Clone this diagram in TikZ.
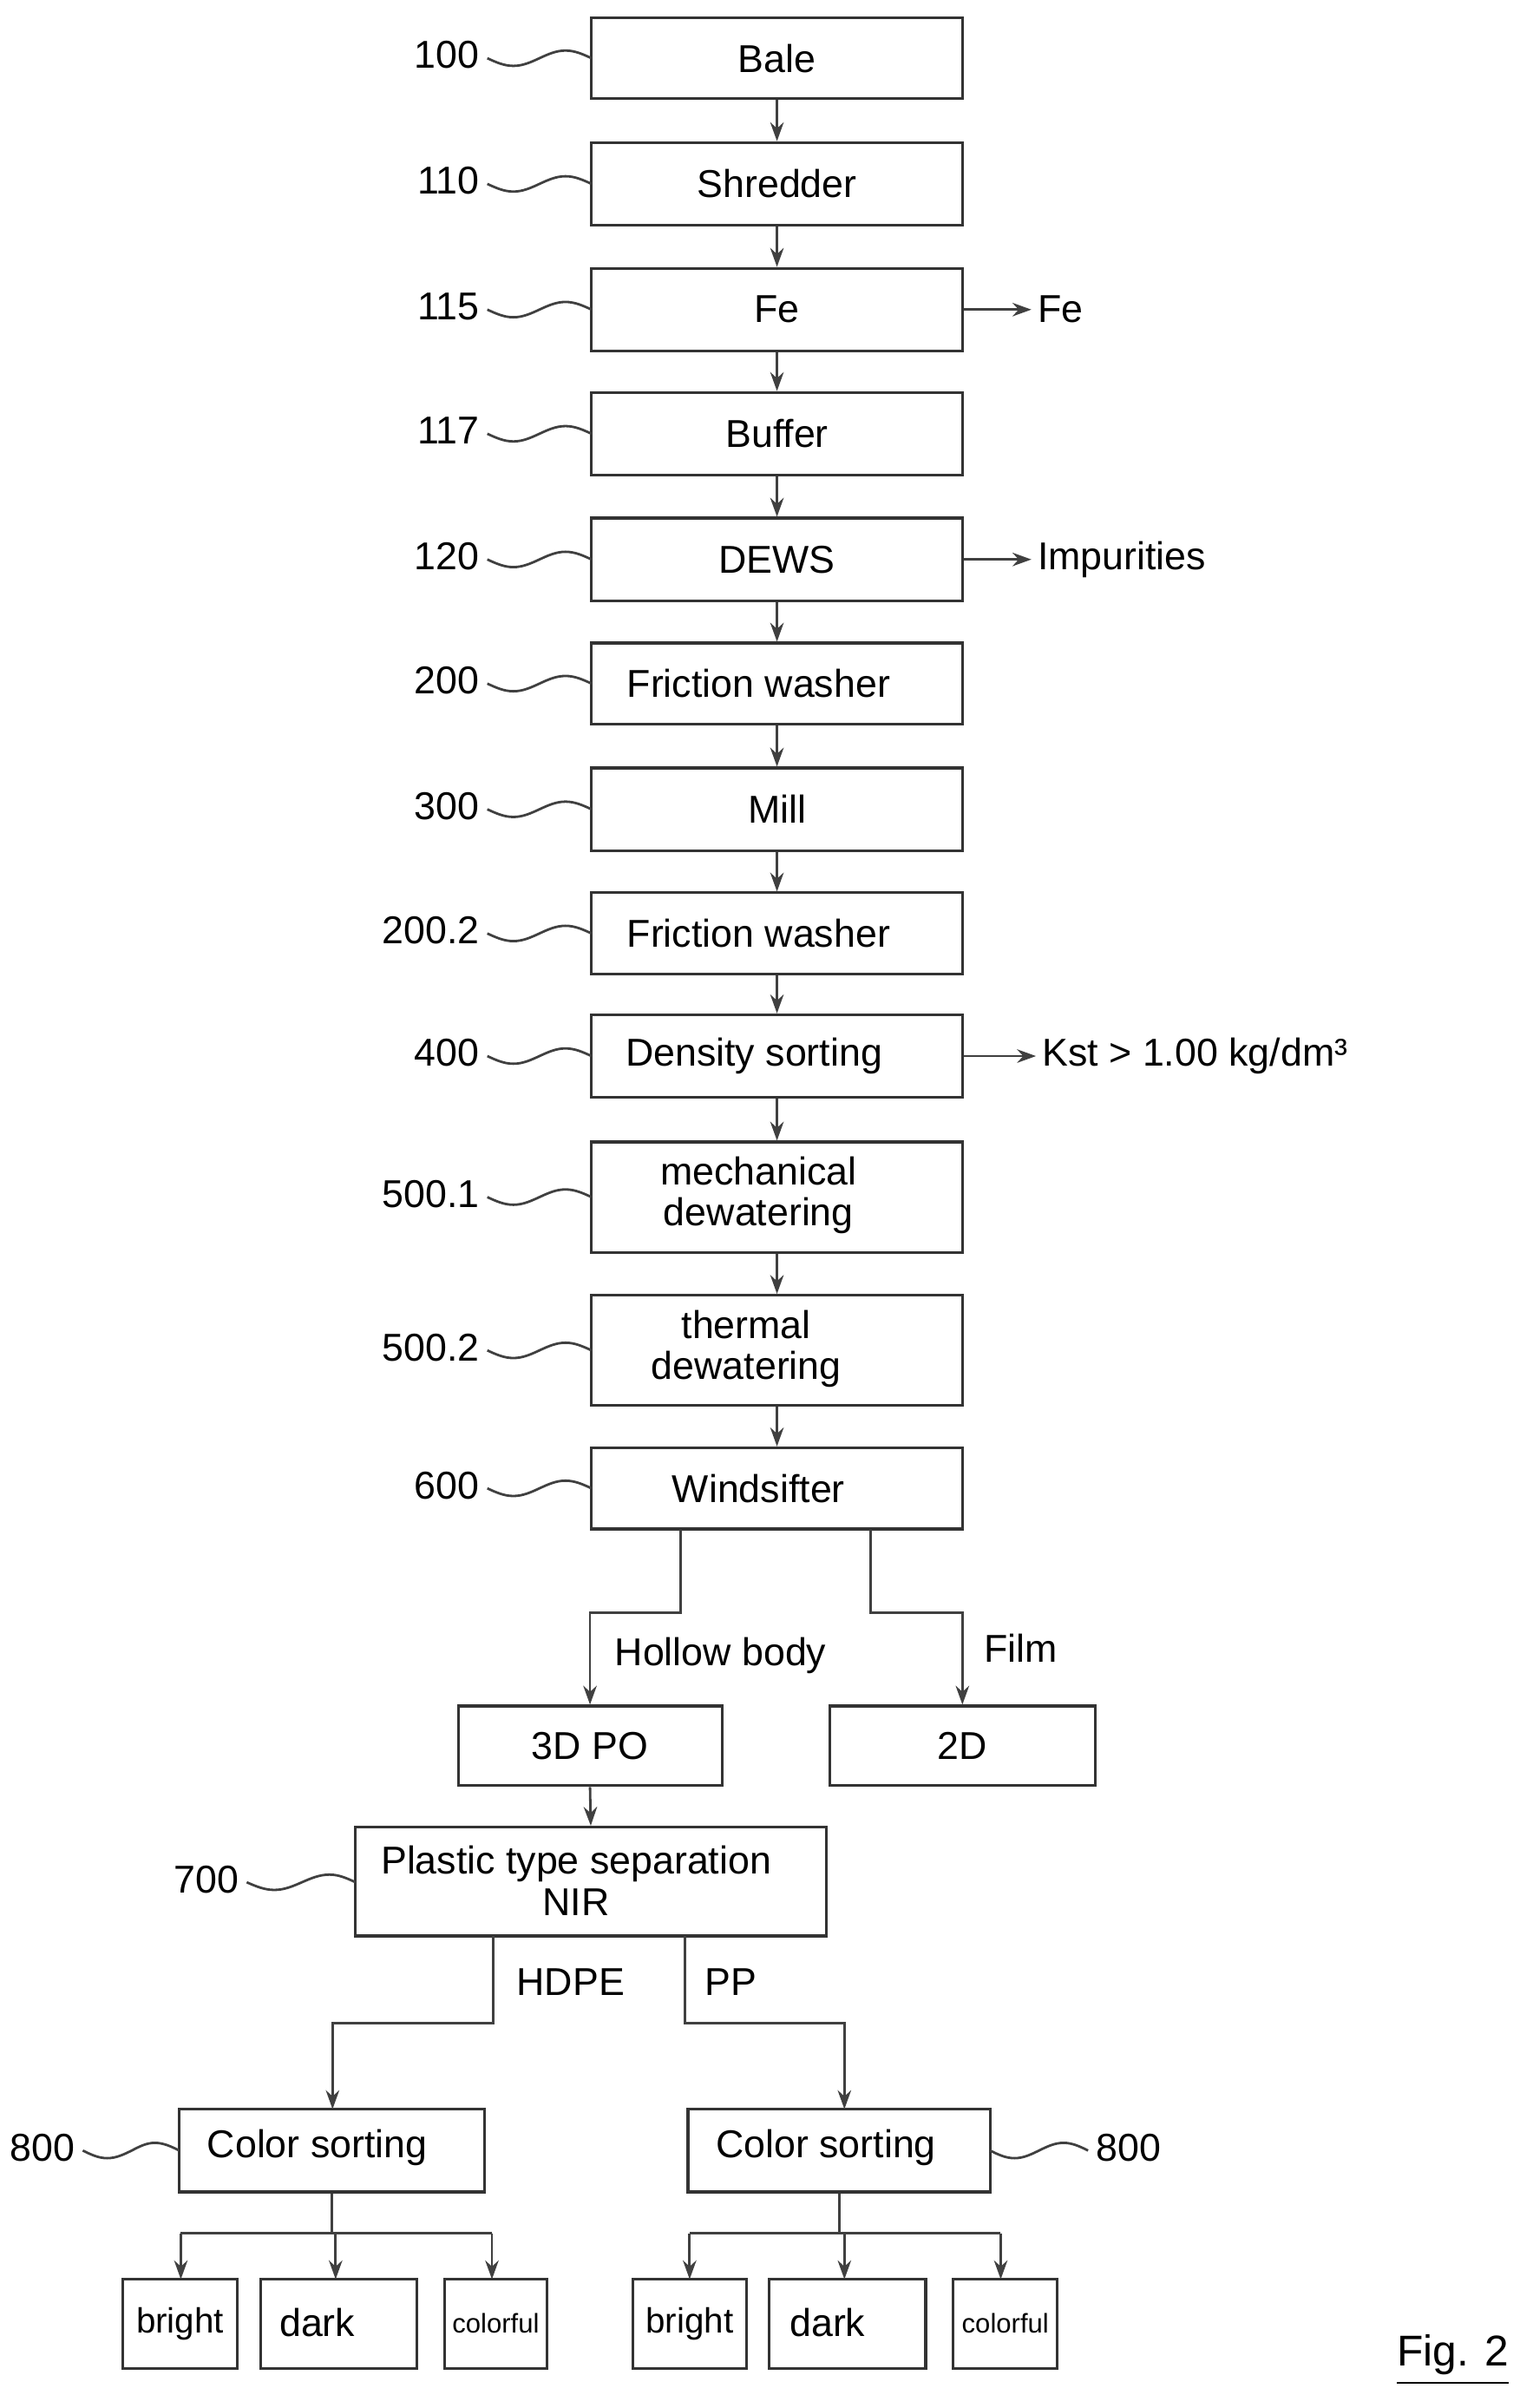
\documentclass[tikz,border=0pt]{standalone}
\usepackage{fontspec}
\setmainfont{Liberation Sans}
\usetikzlibrary{arrows.meta,positioning}
\begin{document}
\begin{tikzpicture}[x=0.01cm,y=-0.01cm,
  box/.style={draw=black!80,line width=0.5pt,inner sep=0pt,font=\fontsize{7.2}{8.6}\selectfont,align=center},
  lbl/.style={font=\fontsize{7.2}{8.6}\selectfont,inner sep=1pt},
  small/.style={draw=black!80,line width=0.5pt,inner sep=0pt,font=\fontsize{6.5}{8}\selectfont},
  ln/.style={draw=black!75,line width=0.45pt},
  arr/.style={ln,-{Stealth[length=3.5pt,width=2.5pt]}},
  sq/.style={ln}]
\useasboundingbox (0,0) rectangle (1000,1571);
% main column
\foreach \n/\t/\yc/\h in {bale/Bale/38/53, shr/Shredder/120/54, fe/Fe/202/54, buf/Buffer/283/54, dews/DEWS/365/54,
  fw1/Friction washer/446/53, mill/Mill/528/54, fw2/Friction washer/609/53, dens/Density sorting/689/54,
  mech/{mechanical\\dewatering}/781/72, therm/{thermal\\dewatering}/881/72, wind/Windsifter/971/53}
  {\node[box,minimum width=2.42cm,minimum height=\h*0.01cm] (\n) at (507,\yc) {};}
\node[lbl] at (507,38) {Bale};
\node[lbl] at (507,120) {Shredder};
\node[lbl] at (507,202) {Fe};
\node[lbl] at (507,283) {Buffer};
\node[lbl] at (507,365) {DEWS};
\node[lbl] at (495,446) {Friction washer};
\node[lbl] at (507,528) {Mill};
\node[lbl] at (495,609) {Friction washer};
\node[lbl] at (492,689) {Density sorting};
\node[lbl,align=center] at (495,780) {mechanical\\[-1pt]dewatering};
\node[lbl,align=center] at (487,880) {thermal\\[-1pt]dewatering};
\node[lbl] at (495,971) {Windsifter};
\foreach \a/\b in {bale/shr,shr/fe,fe/buf,buf/dews,dews/fw1,fw1/mill,mill/fw2,fw2/dens,dens/mech,mech/therm,therm/wind}
  \draw[arr] (\a.south) -- (\b.north);
% side outputs
\node[lbl,anchor=west] (ofe) at (673,202) {Fe};
\node[lbl,anchor=west] (oimp) at (673,365) {Impurities};
\node[lbl,anchor=west] (okst) at (676,689) {Kst > 1.00 kg/dm³};
\draw[arr] (fe.east) -- (ofe.west);
\draw[arr] (dews.east) -- (oimp.west);
\draw[arr] (dens.east) -- (okst.west);
% reference numbers
\foreach \n/\t/\yc in {bale/100/38, shr/110/120, fe/115/202, buf/117/283, dews/120/365, fw1/200/446, mill/300/528,
  fw2/200.2/609, dens/400/689, mech/500.1/781, therm/500.2/881, wind/600/971}
  {\node[lbl,anchor=east] (r\n) at (317,\yc-2) {\t};
   \draw[sq] (318,\yc) sin (335,\yc+5) cos (352,\yc) sin (369,\yc-5) cos (386,\yc);}
% windsifter split
\node[box,minimum width=1.72cm,minimum height=0.52cm] (po) at (385,1139) {3D PO};
\node[box,minimum width=1.73cm,minimum height=0.52cm] (td) at (628,1139) {2D};
\coordinate (w1) at (444,998);
\coordinate (w2) at (568,998);
\draw[arr] (w1) -- (444,1052) -- (385,1052) -- (po.north);
\draw[arr] (w2) -- (568,1052) -- (628,1052) -- (td.north);
\node[lbl,anchor=west] at (397,1080) {Hollow body};
\node[lbl,anchor=west] at (638,1075) {Film};
% NIR
\node[box,minimum width=3.07cm,minimum height=0.71cm] (nir) at (385.5,1227.5) {};
\node[lbl,align=center] at (376,1227) {Plastic type separation\\[-1pt]NIR};
\draw[arr] (po.south) -- (nir.north);
\node[lbl,anchor=east] at (160,1226) {700};
\draw[sq] (161,1228) sin (179,1233) cos (197,1228) sin (215,1223) cos (232,1228);
% colour sorting
\node[box,minimum width=1.99cm,minimum height=0.54cm] (cs1) at (216.5,1403) {};
\node[lbl] at (207,1401) {Color sorting};
\node[box,minimum width=1.97cm,minimum height=0.54cm] (cs2) at (547.5,1403) {};
\node[lbl] at (539,1401) {Color sorting};
\coordinate (n1) at (322,1263);
\coordinate (n2) at (447,1263);
\draw[arr] (n1) -- (322,1320) -- (217,1320) -- (217,1376);
\draw[arr] (n2) -- (447,1320) -- (551,1320) -- (551,1376);
\node[lbl,anchor=west] at (333,1293) {HDPE};
\node[lbl,anchor=west] at (456,1293) {PP};
\node[lbl,anchor=east] at (53,1401) {800};
\draw[sq] (54,1403) sin (70,1408) cos (86,1403) sin (101,1398) cos (117,1403);
\node[lbl,anchor=west] at (711,1401) {800};
\draw[sq] (646,1403) sin (662,1408) cos (678,1403) sin (694,1398) cos (710,1403);
% outputs
\foreach \p/\cs/\xa/\xb/\xc in {L/cs1/118/219/321, R/cs2/450/551/653}{
  \draw[ln] (\cs.south) -- ++(0,27);
  \draw[ln] (\xa,1457) -- (\xc,1457);
  \foreach \x in {\xa,\xb,\xc} \draw[arr] (\x,1457) -- (\x,1487);
}
\node[small,minimum width=0.75cm,minimum height=0.58cm] (b1) at (117.5,1516) {bright};
\node[small,minimum width=1.02cm,minimum height=0.58cm] (d1) at (221,1516) {};
\node[lbl] at (207,1515) {dark};
\node[small,minimum width=0.67cm,minimum height=0.58cm,font=\fontsize{5}{6}\selectfont] (c1) at (323.5,1516) {colorful};
\node[small,minimum width=0.74cm,minimum height=0.58cm] (b2) at (450,1516) {bright};
\node[small,minimum width=1.02cm,minimum height=0.58cm] (d2) at (553,1516) {};
\node[lbl] at (540,1515) {dark};
\node[small,minimum width=0.68cm,minimum height=0.58cm,font=\fontsize{5}{6}\selectfont] (c2) at (656,1516) {colorful};
% figure label
\node[lbl,font=\fontsize{8}{9}\selectfont] (fig) at (948,1540) {\underline{Fig. 2}};
\end{tikzpicture}
\end{document}
